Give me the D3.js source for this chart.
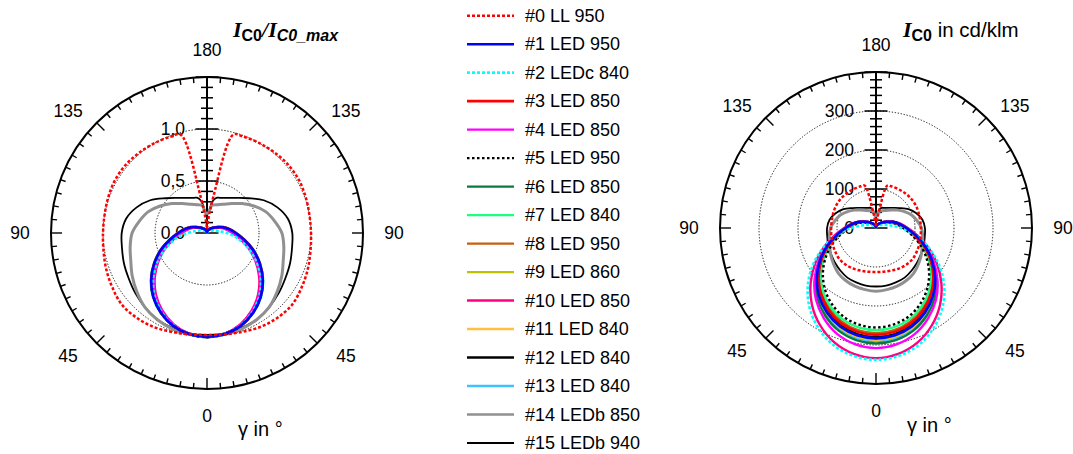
<!DOCTYPE html>
<html>
<head>
<meta charset="utf-8">
<script src="https://cdn.jsdelivr.net/npm/d3@7"></script>
<style>
  body { margin: 0; background: #fff; }
  svg text { font-family: Arial, "Liberation Sans", sans-serif; fill: #000; }
</style>
</head>
<body>
<svg id="chart" width="1073" height="454"></svg>
<script>
// Polar angle γ in degrees (0 = straight down, 180 = straight up)
const gamma = [0, 10, 20, 30, 40, 50, 60, 70, 80, 90, 100, 110, 120, 130, 140, 150, 160, 165, 170, 175, 180];

// Relative intensity I_C0 / I_C0_max for each luminaire, sampled at gamma
const rel00 = [0.98, 0.99, 1.01, 1.04, 1.06, 1.07, 1.05, 1.03, 1.01, 1.00, 1.00, 1.01, 1.02, 1.02, 1.01, 1.00, 0.99, 0.98, 0.36, 0.12, 0.04];
const rel01 = [1.00, 0.987, 0.950, 0.886, 0.803, 0.700, 0.585, 0.470, 0.360, 0.275, 0.215, 0.163, 0.112, 0.080, 0.055, 0.040, 0.025, 0.020, 0.012, 0.006, 0.00];
const rel02 = [1.00, 0.985, 0.945, 0.875, 0.785, 0.675, 0.550, 0.420, 0.300, 0.190, 0.110, 0.070, 0.045, 0.030, 0.020, 0.015, 0.010, 0.010, 0.005, 0.000, 0.00];
const rel03 = [1.00, 0.987, 0.950, 0.885, 0.802, 0.700, 0.587, 0.472, 0.362, 0.280, 0.218, 0.165, 0.113, 0.080, 0.055, 0.040, 0.025, 0.020, 0.012, 0.006, 0.00];
const rel04 = [1.00, 0.984, 0.940, 0.868, 0.778, 0.668, 0.550, 0.435, 0.330, 0.250, 0.195, 0.148, 0.103, 0.075, 0.052, 0.038, 0.024, 0.018, 0.010, 0.005, 0.00];
const rel05 = [1.00, 0.987, 0.950, 0.885, 0.800, 0.697, 0.582, 0.466, 0.356, 0.273, 0.212, 0.160, 0.110, 0.080, 0.055, 0.040, 0.025, 0.020, 0.012, 0.006, 0.00];
const rel06 = [1.00, 0.986, 0.946, 0.878, 0.792, 0.686, 0.570, 0.455, 0.346, 0.266, 0.207, 0.157, 0.108, 0.078, 0.054, 0.040, 0.025, 0.020, 0.012, 0.006, 0.00];
const rel07 = [1.00, 0.988, 0.952, 0.890, 0.808, 0.706, 0.592, 0.476, 0.366, 0.284, 0.221, 0.167, 0.115, 0.082, 0.056, 0.040, 0.025, 0.020, 0.012, 0.006, 0.00];
const rel08 = [1.00, 0.986, 0.947, 0.880, 0.795, 0.690, 0.575, 0.460, 0.350, 0.270, 0.210, 0.160, 0.110, 0.080, 0.055, 0.040, 0.025, 0.020, 0.012, 0.006, 0.00];
const rel09 = [1.00, 0.986, 0.946, 0.879, 0.793, 0.688, 0.572, 0.457, 0.348, 0.268, 0.208, 0.158, 0.109, 0.078, 0.054, 0.040, 0.025, 0.020, 0.012, 0.006, 0.00];
const rel10 = [1.00, 0.982, 0.935, 0.860, 0.766, 0.655, 0.538, 0.424, 0.322, 0.244, 0.190, 0.143, 0.100, 0.072, 0.050, 0.036, 0.022, 0.017, 0.010, 0.005, 0.00];
const rel11 = [1.00, 0.986, 0.946, 0.878, 0.792, 0.686, 0.570, 0.455, 0.346, 0.266, 0.207, 0.157, 0.108, 0.078, 0.054, 0.040, 0.025, 0.020, 0.012, 0.006, 0.00];
const rel12 = [1.00, 0.986, 0.947, 0.880, 0.795, 0.690, 0.575, 0.460, 0.350, 0.270, 0.210, 0.160, 0.110, 0.080, 0.055, 0.040, 0.025, 0.020, 0.012, 0.006, 0.00];
const rel13 = [1.00, 0.986, 0.947, 0.881, 0.796, 0.692, 0.577, 0.462, 0.352, 0.271, 0.211, 0.160, 0.110, 0.080, 0.055, 0.040, 0.025, 0.020, 0.012, 0.006, 0.00];
const rel14 = [1.00, 0.99, 0.98, 0.96, 0.93, 0.88, 0.83, 0.78, 0.75, 0.72, 0.66, 0.60, 0.52, 0.44, 0.37, 0.32, 0.29, 0.28, 0.27, 0.20, 0.18];
const rel15 = [0.98, 0.98, 0.97, 0.96, 0.93, 0.90, 0.87, 0.85, 0.83, 0.82, 0.79, 0.72, 0.63, 0.52, 0.44, 0.39, 0.36, 0.35, 0.31, 0.21, 0.19];

// Maximum intensity in the C0 plane, cd/klm
const peakCdKlm = [115, 283, 338, 274, 308, 255, 296, 262, 270, 285, 334, 287, 280, 290, 162, 153];

const seriesNames = ["#0 LL 950", "#1 LED 950", "#2 LEDc 840", "#3 LED 850", "#4 LED 850", "#5 LED 950",
  "#6 LED 850", "#7 LED 840", "#8 LED 950", "#9 LED 860", "#10 LED 850", "#11 LED 840",
  "#12 LED 840", "#13 LED 840", "#14 LEDb 850", "#15 LEDb 940"];

// Angle tick labels and radial tick labels
const angleTickValues = [0, 45, 90, 135, 180];
const leftRadialTicks = [0, 0.5, 1.0];
const leftRadialLabels = ["0,0", "0,5", "1,0"];
const rightRadialTicks = [0, 100, 200, 300];
const rightRadialLabels = ["0", "100", "200", "300"];
const leftGridRings = [0.5, 1.0];
const rightGridRings = [100, 200, 300];

// Line styles
const seriesColors = ["#ff0000", "#0000ff", "#00ffff", "#ff0000", "#ff00ff", "#000000", "#0a7a3c", "#1aff80",
  "#c46010", "#c0c000", "#ff0080", "#ffc040", "#000000", "#40c0ff", "#909090", "#000000"];
const seriesDash = ["3,2", null, "3,2", null, null, "2.5,2.5", null, null, null, null, null, null, null, null, null, null];
const seriesWidth = [2.5, 2.6, 2.6, 2.6, 2.4, 2.4, 2.4, 2.4, 2.4, 2.4, 2.4, 2.4, 2.4, 2.4, 3, 1.8];

const relSeries = [rel00, rel01, rel02, rel03, rel04, rel05, rel06, rel07, rel08, rel09, rel10, rel11, rel12, rel13, rel14, rel15];

const svg = d3.select("#chart");
const R = 156;
const toRad = Math.PI / 180;

// Full closed outline: right half from γ=180 down to 0, then left half back up to 180
function outline(values, scale) {
  const pts = [];
  for (let i = gamma.length - 1; i >= 0; i--) pts.push({ a: (180 - gamma[i]) * toRad, v: values[i] * scale });
  for (let i = 1; i < gamma.length; i++) pts.push({ a: (180 + gamma[i]) * toRad, v: values[i] * scale });
  return pts;
}

function drawPolar(cfg) {
  const g = svg.append("g").attr("transform", `translate(${cfg.cx},${cfg.cy})`);
  const r = d3.scaleLinear().domain([0, cfg.max]).range([0, R]);
  const y = d3.scaleLinear().domain([0, cfg.max]).range([0, -R]);

  // dotted grid rings
  g.selectAll("circle.grid").data(cfg.rings).join("circle")
    .attr("class", "grid").attr("r", d => r(d))
    .attr("fill", "none").attr("stroke", "#000").attr("stroke-width", 0.9)
    .attr("stroke-dasharray", "1.3,1.7");

  // outer frame with angular ticks every 5°
  g.append("circle").attr("r", R).attr("fill", "none").attr("stroke", "#000").attr("stroke-width", 2);
  const ringTicks = d3.range(0, 360, 5);
  g.selectAll("line.rt").data(ringTicks).join("line")
    .attr("class", "rt")
    .attr("x1", d => Math.sin(d * toRad) * R)
    .attr("y1", d => -Math.cos(d * toRad) * R)
    .attr("x2", d => Math.sin(d * toRad) * (R - (d % 45 === 0 ? 11 : 5.5)))
    .attr("y2", d => -Math.cos(d * toRad) * (R - (d % 45 === 0 ? 11 : 5.5)))
    .attr("stroke", "#000").attr("stroke-width", 1.4);

  // angle labels on both halves
  const angleLabels = [];
  angleTickValues.forEach(v => {
    angleLabels.push({ v, t: 180 - v });
    if (v !== 0 && v !== 180) angleLabels.push({ v, t: 180 + v });
  });
  const nudge = t => (t % 90 === 0) ? t : ((t % 180) < 90 ? t + 3 : t - 3);
  g.selectAll("text.al").data(angleLabels).join("text")
    .attr("class", "al")
    .attr("x", d => Math.sin(nudge(d.t) * toRad) * 187)
    .attr("y", d => -Math.cos(nudge(d.t) * toRad) * 183)
    .attr("text-anchor", "middle").attr("dy", "0.35em")
    .style("font-size", "17.5px")
    .text(d => d.v);

  // radial axis pointing to γ = 180
  g.append("line").attr("x1", 0).attr("y1", 0).attr("x2", 0).attr("y2", -R)
    .attr("stroke", "#000").attr("stroke-width", 2);
  const minor = d3.range(0, cfg.max + cfg.minorStep / 2, cfg.minorStep);
  g.selectAll("line.ra").data(minor).join("line")
    .attr("class", "ra")
    .attr("x1", d => isMajor(d) ? -11.5 : -6).attr("x2", d => isMajor(d) ? 11.5 : 6)
    .attr("y1", d => y(d)).attr("y2", d => y(d))
    .attr("stroke", "#000").attr("stroke-width", 1.5);
  function isMajor(d) {
    return Math.abs(d / cfg.majorStep - Math.round(d / cfg.majorStep)) < 1e-6;
  }
  g.selectAll("text.rl").data(cfg.radialTicks).join("text")
    .attr("class", "rl")
    .attr("x", -22).attr("y", d => y(d)).attr("dy", "0.35em")
    .attr("text-anchor", "end").style("font-size", "17.5px")
    .text((d, i) => cfg.radialLabels[i]);

  // distribution curves, #0 drawn last so it stays on top
  const line = d3.lineRadial().angle(d => d.a).radius(d => r(d.v)).curve(d3.curveCatmullRom.alpha(0.5));
  const order = d3.range(relSeries.length).reverse();
  g.selectAll("path.curve").data(order).join("path")
    .attr("class", "curve")
    .attr("d", i => line(outline(relSeries[i], cfg.scaleOf(i))))
    .attr("fill", "none")
    .attr("stroke", i => seriesColors[i])
    .attr("stroke-width", i => seriesWidth[i])
    .attr("stroke-dasharray", i => seriesDash[i])
    .attr("stroke-linejoin", "round");

  // γ axis caption
  g.append("text").attr("x", cfg.gammaX).attr("y", cfg.gammaY)
    .style("font-size", "20px").text("γ in °");
  return g;
}

drawPolar({
  cx: 207, cy: 233, max: 1.5, minorStep: 0.1, majorStep: 0.5,
  rings: leftGridRings, radialTicks: leftRadialTicks, radialLabels: leftRadialLabels,
  scaleOf: () => 1, gammaX: 31, gammaY: 203
});

drawPolar({
  cx: 876, cy: 228, max: 400, minorStep: 20, majorStep: 100,
  rings: rightGridRings, radialTicks: rightRadialTicks, radialLabels: rightRadialLabels,
  scaleOf: i => peakCdKlm[i], gammaX: 31, gammaY: 204
});

// Titles
const serif = "'Liberation Serif', 'Times New Roman', serif";
const t1 = svg.append("text").attr("x", 233).attr("y", 37);
t1.append("tspan").style("font-family", serif).style("font-weight", "bold").style("font-style", "italic").style("font-size", "22px").text("I");
t1.append("tspan").attr("dy", 4).style("font-weight", "bold").style("font-size", "16px").text("C0");
t1.append("tspan").attr("dy", -4).style("font-family", serif).style("font-weight", "bold").style("font-style", "italic").style("font-size", "22px").text("/I");
t1.append("tspan").attr("dy", 4).style("font-weight", "bold").style("font-style", "italic").style("font-size", "16px").text("C0_max");

const t2 = svg.append("text").attr("x", 903).attr("y", 37);
t2.append("tspan").style("font-family", serif).style("font-weight", "bold").style("font-style", "italic").style("font-size", "22px").text("I");
t2.append("tspan").attr("dy", 4).style("font-weight", "bold").style("font-size", "16px").text("C0");
t2.append("tspan").attr("dy", -4).style("font-size", "20.5px").text(" in cd/klm");

// Legend
const legendY = d3.scaleLinear().domain([0, 15]).range([15.7, 443]);
const lg = svg.append("g");
const rows = lg.selectAll("g.row").data(seriesNames).join("g").attr("class", "row")
  .attr("transform", (d, i) => `translate(0,${legendY(i)})`);
rows.append("line").attr("x1", 467).attr("x2", 514).attr("y1", 0).attr("y2", 0)
  .attr("stroke", (d, i) => seriesColors[i])
  .attr("stroke-width", (d, i) => Math.max(2.2, Math.min(seriesWidth[i], 2.6)))
  .attr("stroke-dasharray", (d, i) => seriesDash[i]);
rows.append("text").attr("x", 525).attr("dy", "0.35em").style("font-size", "18px").text(d => d);
</script>
</body>
</html>
